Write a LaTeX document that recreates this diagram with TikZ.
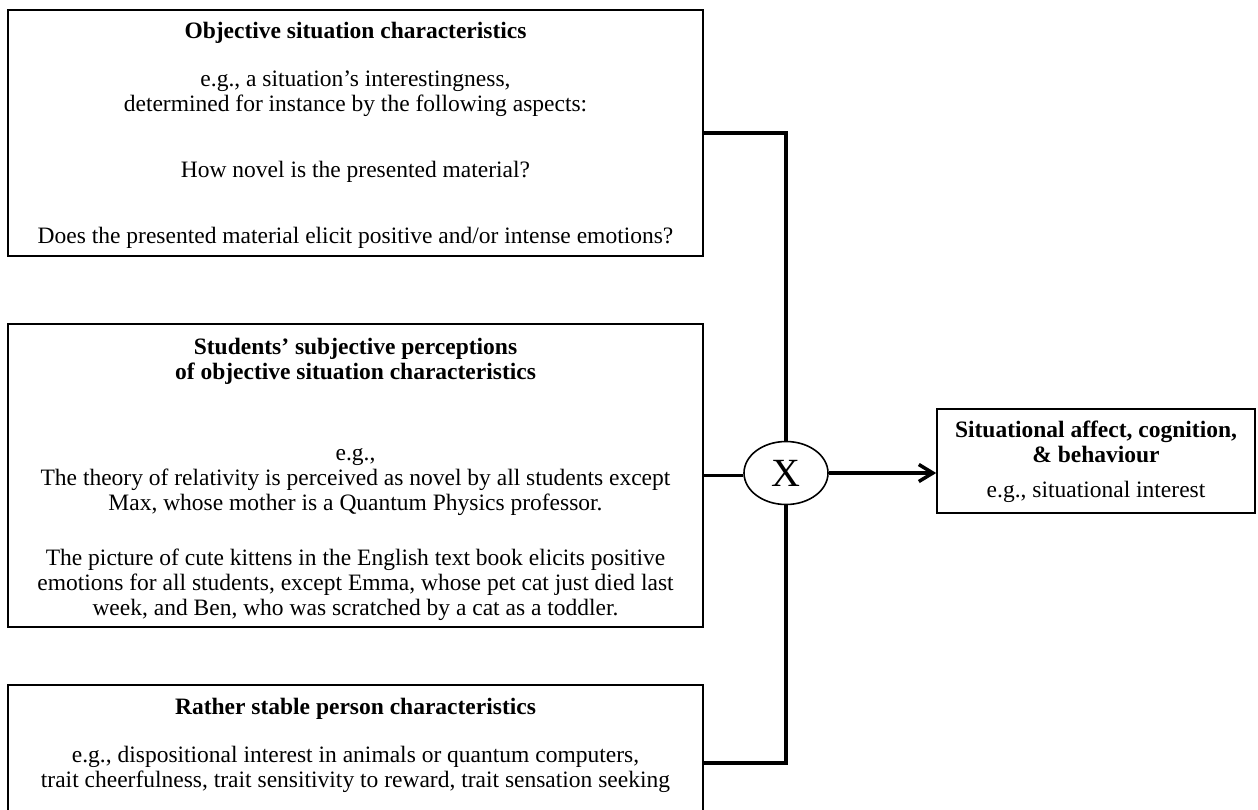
\documentclass[tikz,border=0pt]{standalone}
\usepackage{fontspec}
\setmainfont{Liberation Serif}
\usetikzlibrary{positioning,arrows.meta,shapes.geometric}

\tikzset{
  box/.style={draw, line width=1.6pt, inner sep=0pt},
  txt/.style={align=center, inner sep=0pt, font=\fontsize{23.5}{25}\selectfont},
  link/.style={line width=3.5pt},
}

\begin{document}
\begin{tikzpicture}[x=1pt, y=-1pt, line join=miter, >={Straight Barb[length=14pt,width=17pt]}]
  \useasboundingbox (0,0) rectangle (1258,809);
  \clip (0,0) rectangle (1258,809);

  % three boxes on the left
  \node[box, minimum width=695pt, minimum height=246pt] (objbox) at (355.5,133) {};
  \node[txt, below=13pt of objbox.north] (objtext) {%
    \textbf{Objective situation characteristics}\\[23pt]
    e.g., a situation’s interestingness,\\
    determined for instance by the following aspects:\\[41pt]
    How novel is the presented material?\\[41pt]
    Does the presented material elicit positive and/or intense emotions?};

  \node[box, minimum width=695pt, minimum height=303pt] (percbox) at (355.5,475.5) {};
  \node[txt, below=15pt of percbox.north] (perctext) {%
    \textbf{Students’ subjective perceptions}\\
    \textbf{of objective situation characteristics}\\[56pt]
    e.g.,\\
    The theory of relativity is perceived as novel by all students except\\
    Max, whose mother is a Quantum Physics professor.\\[30pt]
    The picture of cute kittens in the English text book elicits positive\\
    emotions for all students, except Emma, whose pet cat just died last\\
    week, and Ben, who was scratched by a cat as a toddler.};

  \node[box, minimum width=695pt, minimum height=156pt] (persbox) at (355.5,763) {};
  \node[txt, below=14pt of persbox.north] (perstext) {%
    \textbf{Rather stable person characteristics}\\[23pt]
    e.g., dispositional interest in animals or quantum computers,\\
    trait cheerfulness, trait sensitivity to reward, trait sensation seeking};

  % outcome box
  \node[box, minimum width=318pt, minimum height=104pt] (outbox) at (1096,461) {};
  \node[txt, below=13pt of outbox.north] (outtext) {%
    \textbf{Situational affect, cognition,}\\
    \textbf{\& behaviour}\\[10pt]
    e.g., situational interest};

  % interaction
  \node[draw, ellipse, line width=1.6pt, minimum width=84pt, minimum height=63pt,
        inner sep=0pt, font=\fontsize{40}{40}\selectfont] (mult) at (786,473) {X};

  \draw[link] (objbox.east) -| (mult.north);
  \draw[link] (percbox.east) -- (percbox.east -| mult.west);
  \draw[link] (persbox.east) -| (mult.south);
  \draw[link, ->] (mult.east) -- (outbox.west |- mult.east);
\end{tikzpicture}
\end{document}
